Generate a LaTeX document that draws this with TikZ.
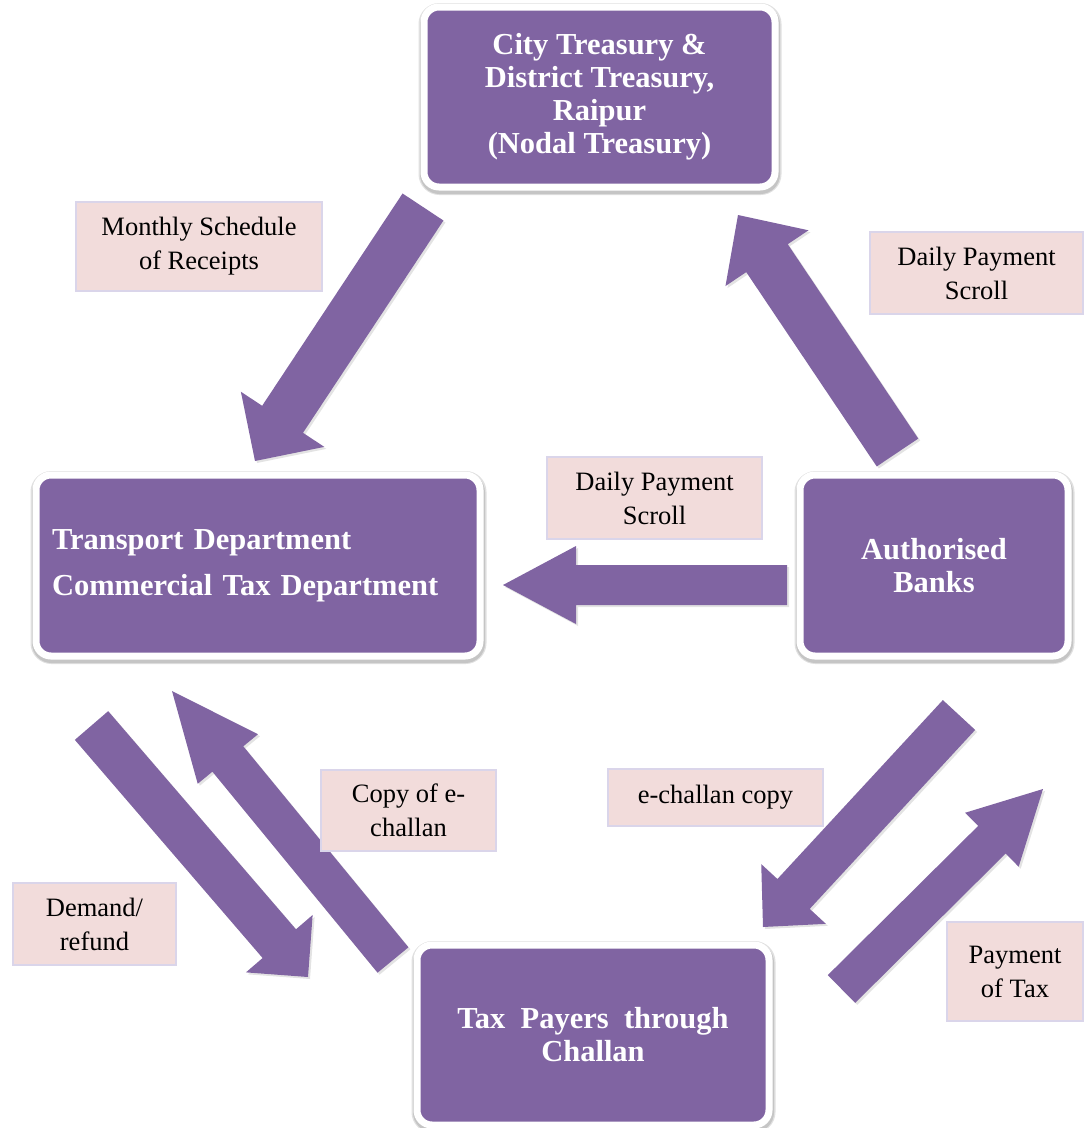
\documentclass[tikz,border=0pt]{standalone}
\usepackage{fontspec}
\setmainfont{Liberation Serif}
\usetikzlibrary{calc,shadows}
\definecolor{boxpurple}{RGB}{128,100,162}
\definecolor{labelpink}{RGB}{242,220,219}
\definecolor{labelborder}{RGB}{218,213,234}
\newcommand{\blockarrow}[6]{% #1 name, #2 tail, #3 tip, #4 half shaft, #5 half head, #6 head length
  \coordinate (#1h) at ($(#3)!#6!(#2)$);
  \fill[flowarrow] ($(#2)!#4!90:(#3)$) -- ($(#1h)!#4!90:(#3)$) -- ($(#1h)!#5!90:(#3)$) -- (#3)
    -- ($(#1h)!#5!-90:(#3)$) -- ($(#1h)!#4!-90:(#3)$) -- ($(#2)!#4!-90:(#3)$) -- cycle;
}
\begin{document}
\begin{tikzpicture}[x={(1pt,0pt)}, y={(0pt,-1pt)},
  mainbox/.style={rectangle, rounded corners=15pt, fill=boxpurple, draw=white, line width=7pt,
    text=white, font=\fontsize{30.5}{33}\selectfont\bfseries, align=center,
    drop shadow={opacity=0.12, shadow xshift=0.5pt, shadow yshift=-2pt, draw=black, line width=12pt},
    drop shadow={opacity=0.12, shadow xshift=0.5pt, shadow yshift=-2.5pt, draw=black, line width=9pt}},
  labelbox/.style={rectangle, fill=labelpink, draw=labelborder, line width=1.5pt,
    text=black, font=\fontsize{26.5}{34}\selectfont, align=center},
  flowarrow/.style={fill=boxpurple,
    drop shadow={opacity=0.22, shadow xshift=2pt, shadow yshift=-2pt}}]
\useasboundingbox (0,0) rectangle (1088,1128);

% main boxes
\node[mainbox, minimum width=351pt, minimum height=180pt] (treasury) at (599.5,97)
  {City Treasury \&\\District Treasury,\\Raipur\\(Nodal Treasury)};
\node[mainbox, minimum width=444pt, minimum height=181pt, inner xsep=16pt,
  text width=412pt, align=left, font=\fontsize{30.5}{46}\selectfont\bfseries] (transport) at (258,565.5)
  {Transport Department\\Commercial Tax Department};
\node[mainbox, minimum width=268pt, minimum height=181pt] (banks) at (934,565.5)
  {Authorised\\Banks};
\node[mainbox, minimum width=352pt, minimum height=180pt] (taxpayers) at (593,1035)
  {\spaceskip=0.5em Tax Payers through\\Challan};

% arrow end points
\coordinate (a1s) at (423,207);   \coordinate (a1e) at (255,461);
\coordinate (a2s) at (897.5,452.5); \coordinate (a2e) at (738,215);
\coordinate (a3s) at (787,585);   \coordinate (a3e) at (503,585);
\coordinate (a4s) at (91.5,725.5); \coordinate (a4e) at (308,977);
\coordinate (a5s) at (393,960);   \coordinate (a5e) at (172,691);
\coordinate (a6s) at (959,715);   \coordinate (a6e) at (763,927);
\coordinate (a7s) at (841.5,989); \coordinate (a7e) at (1043,789);

\blockarrow{a1}{a1s}{a1e}{24.5pt}{50pt}{50pt}
\blockarrow{a2}{a2s}{a2e}{25pt}{50pt}{52pt}
\blockarrow{a3}{a3s}{a3e}{20pt}{39pt}{73pt}
\blockarrow{a4}{a4s}{a4e}{22pt}{44pt}{44pt}
\blockarrow{a5}{a5s}{a5e}{20pt}{39pt}{88pt}
\blockarrow{a6}{a6s}{a6e}{22pt}{44pt}{45pt}
\blockarrow{a7}{a7s}{a7e}{19.5pt}{38pt}{72pt}

% labels
\node[labelbox, minimum width=246pt, minimum height=89pt] (l1) at (199,246.5) {Monthly Schedule\\of Receipts};
\node[labelbox, minimum width=213pt, minimum height=82pt] (l2) at (976.5,273) {Daily Payment\\Scroll};
\node[labelbox, minimum width=215pt, minimum height=82pt] (l3) at (654.5,498) {Daily Payment\\Scroll};
\node[labelbox, minimum width=175pt, minimum height=81pt] (l4) at (408.5,810.5) {Copy of e-\\challan};
\node[labelbox, minimum width=215pt, minimum height=57pt] (l5) at (715.5,797.5) {e-challan copy};
\node[labelbox, minimum width=163pt, minimum height=82pt] (l6) at (94.5,924) {Demand/\\refund};
\node[labelbox, minimum width=136pt, minimum height=99pt] (l7) at (1015,971.5) {Payment\\of Tax};
\end{tikzpicture}
\end{document}
